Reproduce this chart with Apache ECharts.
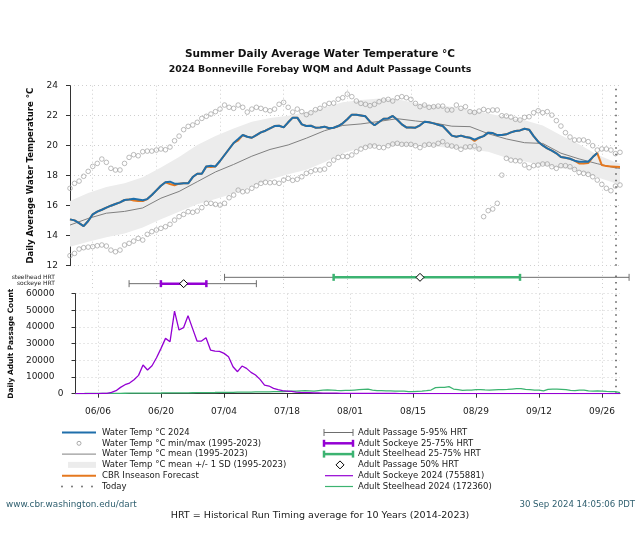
<!DOCTYPE html>
<html><head><meta charset="utf-8">
<script src="https://cdn.jsdelivr.net/npm/echarts@6/dist/echarts.min.js"></script>
<style>html,body{margin:0;padding:0;background:#fff}#c{width:640px;height:560px}</style>
</head><body><div id="c"></div>
<script>
// ---------------- DATA ----------------
const titleLine1 = 'Summer Daily Average Water Temperature °C';
const titleLine2 = '2024 Bonneville Forebay WQM and Adult Passage Counts';
const tempAxisName = 'Daily Average Water Temperature °C';
const passAxisName = 'Daily Adult Passage Count';
const footerLeft = 'www.cbr.washington.edu/dart';
const footerCenter = 'HRT = Historical Run Timing average for 10 Years (2014-2023)';
const footerRight = '30 Sep 2024 14:05:06 PDT';

const seasonStart = {month: 6, day: 1};
const seasonDays = 122;               // 06/01 .. 09/30
const tickLabels = ['06/06','06/20','07/04','07/18','08/01','08/15','08/29','09/12','09/26'];
const todayDate = '09/29';

const temp2024 = [15.09,15.02,14.84,14.64,14.98,15.42,15.6,15.73,15.87,16.0,
16.11,16.22,16.38,16.42,16.47,16.42,16.36,16.44,16.71,17.02,
17.33,17.56,17.6,17.47,17.47,17.49,17.49,17.91,18.13,18.13,
18.62,18.67,18.62,18.98,19.38,19.78,20.18,20.44,20.71,20.6,
20.53,20.71,20.89,21.0,21.16,21.31,21.33,21.22,21.56,21.87,
21.87,21.42,21.31,21.33,21.2,21.22,21.27,21.16,21.2,21.31,
21.49,21.76,22.07,22.07,22.02,21.96,21.6,21.36,21.58,21.8,
21.82,21.98,21.73,21.42,21.22,21.22,21.2,21.36,21.6,21.56,
21.49,21.4,21.31,21.0,20.67,20.6,20.67,20.58,20.53,20.4,
20.53,20.64,20.87,20.84,20.71,20.71,20.76,20.89,20.98,21.02,
21.13,21.07,20.64,20.27,20.02,19.82,19.67,19.49,19.24,19.2,
19.13,19.0,18.93,18.93,18.93,19.24,19.51,null,null,null,
null,null];

const forecast = [15.09,15.02,14.84,14.64,14.98,15.42,15.6,15.73,15.87,16.0,
16.11,16.22,16.38,16.42,16.35,16.31,16.31,16.44,16.71,17.02,
17.33,17.56,17.45,17.36,17.47,17.49,17.49,17.91,18.13,18.13,
18.62,18.58,18.62,18.98,19.38,19.78,20.18,20.36,20.71,20.6,
20.53,20.71,20.89,21.0,21.16,21.31,21.33,21.22,21.56,21.87,
21.87,21.42,21.31,21.33,21.2,21.22,21.27,21.16,21.2,21.31,
21.49,21.76,22.07,22.07,22.02,21.96,21.6,21.36,21.58,21.8,
21.82,21.98,21.73,21.42,21.22,21.22,21.2,21.36,21.6,21.56,
21.49,21.4,21.31,21.0,20.67,20.6,20.67,20.58,20.53,20.31,
20.53,20.64,20.87,20.84,20.71,20.71,20.76,20.89,20.98,21.02,
21.13,21.07,20.64,20.27,20.02,19.82,19.67,19.49,19.24,19.2,
19.13,19.0,18.82,18.82,18.84,19.24,19.51,18.71,18.64,18.62,
18.6,18.58];

const tempMax = [17.16,17.49,17.64,17.96,18.29,18.62,18.82,19.11,18.89,18.49,
18.38,18.38,18.82,19.22,19.4,19.33,19.6,19.64,19.64,19.71,
19.78,19.73,19.91,20.33,20.64,21.07,21.29,21.38,21.56,21.82,
21.96,22.11,22.27,22.44,22.71,22.56,22.49,22.71,22.56,22.24,
22.44,22.56,22.49,22.4,22.33,22.44,22.76,22.89,22.56,22.24,
22.44,22.27,22.07,22.2,22.4,22.49,22.71,22.82,22.84,23.1,
23.2,23.44,23.27,22.98,22.82,22.76,22.67,22.76,22.93,23.04,
23.09,22.98,23.2,23.27,23.2,23.09,22.82,22.6,22.71,22.56,
22.6,22.64,22.64,22.38,22.38,22.71,22.49,22.6,22.27,22.22,
22.31,22.42,22.33,22.38,22.38,22.0,21.98,21.91,21.76,21.71,
21.89,21.93,22.2,22.33,22.2,22.27,22.04,21.67,21.31,20.87,
20.58,20.38,20.38,20.38,20.27,20.0,19.71,19.78,19.78,19.71,
19.47,19.56];

const tempMin = [12.67,12.82,13.11,13.2,13.24,13.27,13.33,13.38,13.31,13.04,
12.93,13.04,13.38,13.49,13.64,13.82,13.71,14.09,14.27,14.38,
14.49,14.6,14.76,15.04,15.27,15.42,15.6,15.56,15.64,15.87,
16.16,16.16,16.09,16.04,16.16,16.53,16.71,17.04,16.93,16.98,
17.16,17.33,17.49,17.56,17.53,17.56,17.49,17.71,17.82,17.69,
17.76,17.93,18.16,18.27,18.38,18.38,18.44,18.76,19.04,19.22,
19.29,19.27,19.38,19.6,19.78,19.89,19.98,19.98,19.89,19.87,
20.0,20.11,20.16,20.09,20.09,20.09,20.0,19.87,20.04,20.09,
20.04,20.16,20.27,20.04,19.98,19.91,19.76,19.91,19.93,19.98,
19.78,15.27,15.67,15.78,16.16,18.04,19.16,19.04,19.0,18.98,
18.71,18.53,18.67,18.71,18.78,18.78,18.6,18.49,18.67,18.67,
18.6,18.42,18.22,18.16,18.09,17.93,17.71,17.42,17.16,17.0,
17.31,17.38];

const statDates = ['06/01','06/05','06/09','06/13','06/17','06/21','06/25','06/29','07/03','07/07',
'07/11','07/15','07/19','07/23','07/27','07/31','08/04','08/08','08/12','08/16',
'08/20','08/24','08/28','09/01','09/05','09/09','09/13','09/17','09/21','09/25','09/29','09/30'];
const tempMean = [14.71,15.15,15.5,15.62,15.85,16.5,16.95,17.6,18.25,18.75,
19.3,19.75,20.05,20.5,21.0,21.35,21.45,21.62,21.8,21.65,
21.52,21.3,21.27,20.8,20.45,20.2,20.15,19.5,19.12,18.8,18.52,18.49];
const sdUpper = [16.31,16.85,17.25,17.5,17.9,18.55,19.25,20.05,20.65,21.15,
21.6,21.85,22.0,22.25,22.55,22.9,23.05,23.15,23.1,22.85,
22.7,22.6,22.4,22.15,21.9,21.7,21.35,20.7,20.1,19.4,18.9,18.82];
const sdLower = [13.27,13.6,13.9,14.15,14.55,15.1,15.6,16.1,16.45,16.82,
17.3,17.75,18.1,18.4,18.9,19.5,19.85,20.0,20.0,20.0,
19.95,19.85,19.75,19.6,19.2,18.95,18.7,18.5,18.3,17.9,17.5,17.45];

const sockeye2024 = [0,0,50,100,100,100,150,200,800,1800,
3800,5400,6400,8400,11000,17200,14200,16800,21600,27200,
33200,31200,49600,38200,39600,46800,39200,31600,31600,33600,
26200,25600,25400,24200,22200,16200,13200,16600,15200,12800,
11200,8600,5200,4600,3200,2400,1800,1600,1400,1000,
800,700,600,500,450,400,350,300,300,250,
250,250,200,200,200,200,150,150,150,150,
150,150,100,100,100,100,100,100,100,100,
100,100,100,100,80,80,80,80,80,80,
80,60,60,60,60,60,60,60,50,50,
50,50,50,50,40,40,40,40,40,40,
30,30,30,30,30,30,30,20,20,20,
20,20];

const steelhead2024 = [100,100,120,150,150,180,200,200,220,250,
250,280,300,300,320,350,350,380,400,420,
450,450,480,500,520,550,580,600,620,650,
700,720,750,800,820,850,900,950,1000,1000,
1050,1100,1100,1150,1200,1250,1300,1400,1500,1600,
1700,1800,1700,1600,1900,2100,2300,2200,2000,1900,
2000,2000,2200,2400,2600,2700,2200,1900,1800,1700,
1700,1600,1600,1500,1300,1300,1400,1500,1800,2200,
3600,3800,3800,4200,2800,2400,2000,2100,2200,2400,
2500,2300,2200,2300,2400,2500,2600,2800,3000,3100,
2600,2400,2200,2100,1700,2600,2700,2700,2600,2400,
2000,1800,2100,2200,1700,1600,1700,1600,1400,1300,
1200,700];

// HRT: [5%, 25%, 50%, 75%, 95%]
const hrtNames = ['sockeye HRT', 'steelhead HRT'];
const sockeyeHRT = ['06/14','06/21','06/26','07/01','07/12'];
const steelheadHRT = ['07/05','07/29','08/17','09/08','10/02'];

const legendLeft = ['Water Temp °C 2024','Water Temp °C min/max (1995-2023)','Water Temp °C mean (1995-2023)',
  'Water Temp °C mean +/- 1 SD (1995-2023)','CBR Inseason Forecast','Today'];
const legendRight = ['Adult Passage 5-95% HRT','Adult Sockeye 25-75% HRT','Adult Steelhead 25-75% HRT',
  'Adult Passage 50% HRT','Adult Sockeye 2024 (755881)','Adult Steelhead 2024 (172360)'];

// ---------------- HELPERS ----------------
const monthLen = {6:30, 7:31, 8:31, 9:30, 10:31};
function dayIndex(mmdd) {
  const [m, d] = mmdd.split('/').map(Number);
  let idx = 0;
  for (let mm = seasonStart.month; mm < m; mm++) idx += monthLen[mm];
  return idx + d - seasonStart.day;
}
const dates = [];
{
  let m = seasonStart.month, d = seasonStart.day;
  for (let i = 0; i < seasonDays; i++) {
    dates.push(String(m).padStart(2,'0') + '/' + String(d).padStart(2,'0'));
    d++; if (d > monthLen[m]) { d = 1; m++; }
  }
}
const tickFn = (idx, val) => tickLabels.indexOf(dates[idx]) >= 0;

// ---------------- STYLE ----------------
const FONT = 'DejaVu Sans';
const C = {
  blue: '#1f6fab', orange: '#e5781f', mean: '#808080', minmax: '#a0a0a0', band: '#ececec',
  purple: '#9400d3', green: '#3cb371', hrt: '#6e6e6e', grid: '#cfcfcf', axis: '#333', text: '#1a1a1a', teal: '#2f5f6f'
};
const gridLine = {show: true, lineStyle: {type: [1, 3], color: C.grid, width: 1}};
const todayMark = {
  silent: true, symbol: ['none', 'none'], label: {show: false},
  lineStyle: {type: [1.5, 5], color: '#555', width: 1.5},
  data: [{xAxis: dayIndex(todayDate)}]
};

function xAxisFor(gi, showLabels) {
  return {
    type: 'category', gridIndex: gi, data: dates, boundaryGap: false,
    axisLine: {show: showLabels, lineStyle: {color: C.axis, width: 1}},
    axisTick: {show: showLabels, interval: tickFn, length: 4, lineStyle: {color: C.axis}},
    axisLabel: {show: showLabels, interval: tickFn, fontFamily: FONT, fontSize: 9, color: C.text, margin: 13},
    splitLine: Object.assign({interval: tickFn}, gridLine)
  };
}

const chart = echarts.init(document.getElementById('c'), null, {renderer: 'canvas'});

// ---------------- LEGEND / TEXT GRAPHICS ----------------
const rowsY = [432.5, 443.3, 454.1, 464.9, 475.7, 486.5];
const g = [];
const txt = (x, y, t, opt) => g.push({type: 'text', x, y, silent: true, style: Object.assign({
  text: t, fontFamily: FONT, fontSize: 8.5, fill: C.text, align: 'left', verticalAlign: 'middle'}, opt || {})});
const ln = (x1, y1, x2, y2, stroke, w) => g.push({type: 'line', silent: true,
  shape: {x1, y1, x2, y2}, style: {stroke, lineWidth: w}});

txt(320, 54, titleLine1, {align: 'center', fontWeight: 'bold', fontSize: 10.5, fill: '#111'});
txt(320, 70, titleLine2, {align: 'center', fontWeight: 'bold', fontSize: 9.4, fill: '#111'});

// left legend
ln(62, rowsY[0], 96, rowsY[0], C.blue, 2);
g.push({type: 'circle', silent: true, shape: {cx: 79, cy: rowsY[1], r: 2}, style: {stroke: C.minmax, fill: 'none', lineWidth: 0.9}});
ln(62, rowsY[2], 96, rowsY[2], C.mean, 1);
g.push({type: 'rect', silent: true, shape: {x: 68, y: rowsY[3] - 3, width: 28, height: 6}, style: {fill: C.band}});
ln(62, rowsY[4], 96, rowsY[4], C.orange, 2);
[62, 72, 82, 92].forEach(x => g.push({type: 'circle', silent: true, shape: {cx: x, cy: rowsY[5], r: 0.9}, style: {fill: '#666'}}));
legendLeft.forEach((t, i) => txt(102, rowsY[i], t));

// right legend
function hrtIcon(y, color, w) {
  ln(324, y, 353, y, color, w);
  ln(324, y - 3.5, 324, y + 3.5, color, w);
  ln(353, y - 3.5, 353, y + 3.5, color, w);
}
hrtIcon(rowsY[0], C.hrt, 1);
hrtIcon(rowsY[1], C.purple, 2.5);
hrtIcon(rowsY[2], C.green, 2.5);
g.push({type: 'polygon', silent: true, shape: {points: [[340, rowsY[3] - 4], [344, rowsY[3]], [340, rowsY[3] + 4], [336, rowsY[3]]]},
  style: {fill: '#fff', stroke: '#000', lineWidth: 1}});
ln(325, rowsY[4], 353, rowsY[4], C.purple, 1.2);
ln(325, rowsY[5], 353, rowsY[5], C.green, 1.2);
legendRight.forEach((t, i) => txt(358, rowsY[i], t));

// footer
txt(6, 505, footerLeft, {fill: C.teal, fontSize: 8.8});
txt(320, 516, footerCenter, {align: 'center', fontSize: 9.55});
txt(635, 505, footerRight, {align: 'right', fill: C.teal, fontSize: 8.6});

// ---------------- OPTION ----------------
const bandSeries = {
  type: 'custom', xAxisIndex: 0, yAxisIndex: 0, z: 1, silent: true,
  data: [[0, sdLower[0]]],
  renderItem: (params, api) => {
    const pts = [];
    statDates.forEach((d, i) => pts.push(api.coord([dayIndex(d), sdUpper[i]])));
    for (let i = statDates.length - 1; i >= 0; i--) pts.push(api.coord([dayIndex(statDates[i]), sdLower[i]]));
    return {type: 'polygon', shape: {points: pts}, style: {fill: C.band}};
  }
};

const hrtSets = [
  {row: 1, p: sockeyeHRT, color: C.purple},
  {row: 2, p: steelheadHRT, color: C.green}
];
const hrtSeries = {
  type: 'custom', xAxisIndex: 1, yAxisIndex: 1, z: 5, silent: true, clip: false,
  data: hrtSets.map(s => [dayIndex(s.p[2]), s.row]),
  renderItem: (params, api) => {
    const s = hrtSets[params.dataIndex];
    const pt = k => api.coord([dayIndex(s.p[k]), s.row]);
    const p5 = pt(0), p25 = pt(1), p50 = pt(2), p75 = pt(3), p95 = pt(4);
    const cap = 3.5;
    const L = (a, b, color, w) => ({type: 'line', shape: {x1: a[0], y1: a[1], x2: b[0], y2: b[1]}, style: {stroke: color, lineWidth: w}});
    const V = (a, color, w) => ({type: 'line', shape: {x1: a[0], y1: a[1] - cap, x2: a[0], y2: a[1] + cap}, style: {stroke: color, lineWidth: w}});
    return {type: 'group', children: [
      L(p5, p95, C.hrt, 1), V(p5, C.hrt, 1), V(p95, C.hrt, 1),
      L(p25, p75, s.color, 2.5), V(p25, s.color, 2.5), V(p75, s.color, 2.5),
      {type: 'polygon', shape: {points: [[p50[0], p50[1] - 4], [p50[0] + 4, p50[1]], [p50[0], p50[1] + 4], [p50[0] - 4, p50[1]]]},
        style: {fill: '#fff', stroke: '#000', lineWidth: 1}}
    ]};
  }
};

const circleStyle = {color: 'rgba(255,255,255,0)', borderColor: C.minmax, borderWidth: 0.9};

const option = {
  animation: false,
  backgroundColor: '#fff',
  textStyle: {fontFamily: FONT},
  grid: [
    {left: 70, top: 85.7, width: 550, height: 180},
    {left: 70, top: 271, width: 550, height: 19},
    {left: 70, top: 293.7, width: 550, height: 100}
  ],
  xAxis: [xAxisFor(0, false), xAxisFor(1, false), xAxisFor(2, true)],
  yAxis: [
    {type: 'value', gridIndex: 0, min: 12, max: 24, interval: 2,
      axisLine: {show: true, lineStyle: {color: C.axis}},
      axisTick: {show: true, length: 4, lineStyle: {color: C.axis}},
      axisLabel: {fontFamily: FONT, fontSize: 9, color: C.text, margin: 12},
      splitLine: gridLine,
      name: tempAxisName, nameLocation: 'middle', nameGap: 35,
      nameTextStyle: {fontFamily: FONT, fontWeight: 'bold', fontSize: 8.5, color: '#111'}},
    {type: 'value', gridIndex: 1, min: 0, max: 3, interval: 1,
      axisLine: {show: false}, axisTick: {show: false}, splitLine: {show: false},
      axisLabel: {fontFamily: FONT, fontSize: 6, color: C.text, margin: 15,
        formatter: v => (v >= 1 && v <= hrtNames.length) ? hrtNames[v - 1] : ''}},
    {type: 'value', gridIndex: 2, min: 0, max: 60000, interval: 10000,
      axisLine: {show: true, lineStyle: {color: C.axis}},
      axisTick: {show: true, length: 4, lineStyle: {color: C.axis}},
      axisLabel: {fontFamily: FONT, fontSize: 9, color: C.text, margin: 12,
        formatter: v => v === 0 ? '{z|0}' : '{n|' + v + '}',
        rich: {z: {fontFamily: FONT, fontSize: 9, color: C.text}, n: {fontFamily: FONT, fontSize: 9, color: C.text, padding: [0, 9, 0, 0]}}},
      splitLine: gridLine,
      name: passAxisName, nameLocation: 'middle', nameGap: 59,
      nameTextStyle: {fontFamily: FONT, fontWeight: 'bold', fontSize: 7.4, color: '#111'}}
  ],
  series: [
    bandSeries,
    {type: 'line', xAxisIndex: 0, yAxisIndex: 0, z: 3, silent: true, symbol: 'none',
      data: statDates.map((d, i) => [dayIndex(d), tempMean[i]]),
      lineStyle: {color: C.mean, width: 1}, markLine: todayMark},
    {type: 'scatter', xAxisIndex: 0, yAxisIndex: 0, z: 4, silent: true, symbol: 'circle', symbolSize: 4.6,
      data: tempMax, itemStyle: circleStyle},
    {type: 'scatter', xAxisIndex: 0, yAxisIndex: 0, z: 4, silent: true, symbol: 'circle', symbolSize: 4.6,
      data: tempMin, itemStyle: circleStyle},
    {type: 'line', xAxisIndex: 0, yAxisIndex: 0, z: 5, silent: true, symbol: 'none',
      data: forecast, lineStyle: {color: C.orange, width: 2}},
    {type: 'line', xAxisIndex: 0, yAxisIndex: 0, z: 6, silent: true, symbol: 'none',
      data: temp2024, lineStyle: {color: C.blue, width: 2}},
    hrtSeries,
    {type: 'line', xAxisIndex: 1, yAxisIndex: 1, silent: true, symbol: 'none', data: [], markLine: todayMark},
    {type: 'line', xAxisIndex: 2, yAxisIndex: 2, z: 5, silent: true, symbol: 'none',
      data: steelhead2024, lineStyle: {color: C.green, width: 1.3}},
    {type: 'line', xAxisIndex: 2, yAxisIndex: 2, z: 6, silent: true, symbol: 'none',
      data: sockeye2024, lineStyle: {color: C.purple, width: 1.3}, markLine: todayMark}
  ],
  graphic: g
};
chart.setOption(option);
</script>
</body></html>
